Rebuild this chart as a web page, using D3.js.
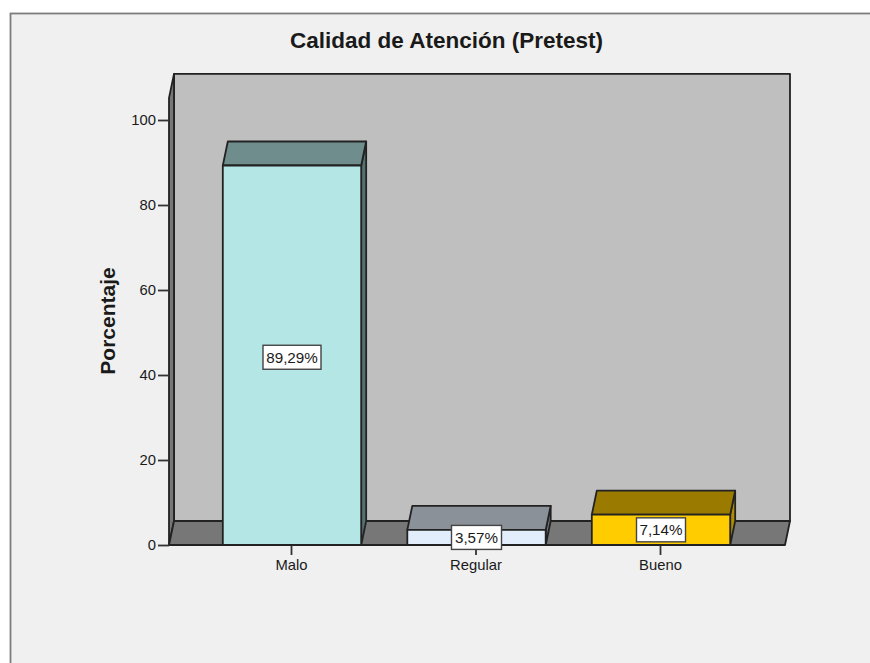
<!DOCTYPE html>
<html>
<head>
<meta charset="utf-8">
<script src="https://cdn.jsdelivr.net/npm/d3@7"></script>
<style>
  html, body { margin: 0; padding: 0; background: #fff; overflow: hidden; }
  svg { display: block; }
  text { font-family: "Liberation Sans", Arial, sans-serif; fill: #1a1a1a; }
</style>
</head>
<body>
<svg id="chart" width="870" height="663"></svg>
<script>
// Quality-of-care survey, pretest percentages
const categories = ["Malo", "Regular", "Bueno"];
const percentages = [89.29, 3.57, 7.14];
const percentLabels = ["89,29%", "3,57%", "7,14%"];
const frontColors = ["#b4e6e6", "#e2eefb", "#ffcc00"];
const topColors = ["#6f8d8d", "#8b9199", "#9a7b00"];
const sideColors = ["#557070", "#6d7279", "#b08d00"];
const yTicks = [0, 20, 40, 60, 80, 100];
const titleText = "Calidad de Atención (Pretest)";
const yTitle = "Porcentaje";
const axisTop = 105.2;

const depthX = 5, depthY = -24;
const outline = "#222";
const lineW = 1.8;

const svg = d3.select("#chart");
const y = d3.scaleLinear().domain([0, axisTop]).range([545, 97.9]);
const x = d3.scaleBand().domain(categories).range([199.75, 753.25]).paddingInner(0.25).paddingOuter(0.125);
const plotLeft = 169, plotRight = 785;

const poly = (pts, fill, sw = lineW) => svg.append("polygon")
  .attr("points", pts.map(p => p.join(",")).join(" "))
  .attr("fill", fill).attr("stroke", outline).attr("stroke-width", sw)
  .attr("stroke-linejoin", "round");

// Outer panel with its grey frame on the top and left
svg.append("rect").attr("x", 10.5).attr("y", 13.5).attr("width", 880).attr("height", 680)
  .attr("fill", "#f0f0f0").attr("stroke", "#7d7d7d").attr("stroke-width", 1.8);

// Title and y axis title
svg.append("text").attr("x", 446.5).attr("y", 47.5).attr("text-anchor", "middle")
  .attr("font-size", 22.5).attr("font-weight", "bold").text(titleText);
svg.append("text").attr("transform", "translate(115,321) rotate(-90)").attr("text-anchor", "middle")
  .attr("font-size", 21).attr("font-weight", "bold").text(yTitle);

// Three-dimensional plot box: back wall, left wall, floor
const y0 = y(0), yT = y(axisTop);
poly([[plotLeft + depthX, yT + depthY], [plotRight + depthX, yT + depthY],
      [plotRight + depthX, y0 + depthY], [plotLeft + depthX, y0 + depthY]], "#bfbfbf");
poly([[plotLeft, yT], [plotLeft + depthX, yT + depthY],
      [plotLeft + depthX, y0 + depthY], [plotLeft, y0]], "#777");
poly([[plotLeft, y0], [plotLeft + depthX, y0 + depthY],
      [plotRight + depthX, y0 + depthY], [plotRight, y0]], "#777");

// Axes
const yAxis = svg.append("g").attr("transform", `translate(${plotLeft},0)`)
  .call(d3.axisLeft(y).tickValues(yTicks).tickSizeInner(11).tickSizeOuter(0).tickPadding(2));
yAxis.select(".domain").remove();
const xAxis = svg.append("g").attr("transform", `translate(-0.5,${y0})`)
  .call(d3.axisBottom(x).tickSizeInner(10).tickSizeOuter(0).tickPadding(4));
xAxis.select(".domain").remove();
svg.selectAll(".tick line").attr("stroke", "#333").attr("stroke-width", lineW);
svg.selectAll(".tick text").attr("font-size", 14.8).attr("fill", "#222")
  .attr("font-family", '"Liberation Sans", Arial, sans-serif');

// Bars: side, top, then front face
categories.forEach((c, i) => {
  const l = x(c), r = l + x.bandwidth(), t = y(percentages[i]);
  poly([[r, t], [r + depthX, t + depthY], [r + depthX, y0 + depthY], [r, y0]], sideColors[i]);
  poly([[l, t], [l + depthX, t + depthY], [r + depthX, t + depthY], [r, t]], topColors[i]);
  poly([[l, t], [r, t], [r, y0], [l, y0]], frontColors[i]);
});
svg.append("line").attr("x1", plotLeft).attr("x2", plotRight).attr("y1", y0).attr("y2", y0)
  .attr("stroke", outline).attr("stroke-width", lineW);

// Value labels in white boxes, centred on each bar's front face
const boxW = [58, 50, 49];
categories.forEach((c, i) => {
  const cx = x(c) + x.bandwidth() / 2;
  const cy = y(percentages[i] / 2) + (i === 0 ? 2 : 0);
  svg.append("rect").attr("x", cx - boxW[i] / 2).attr("y", cy - 12).attr("width", boxW[i]).attr("height", 24)
    .attr("fill", "#fff").attr("stroke", "#444").attr("stroke-width", 1.4);
  svg.append("text").attr("x", cx).attr("y", cy + 5.5).attr("text-anchor", "middle")
    .attr("font-size", 15.2).text(percentLabels[i]);
});
</script>
</body>
</html>
